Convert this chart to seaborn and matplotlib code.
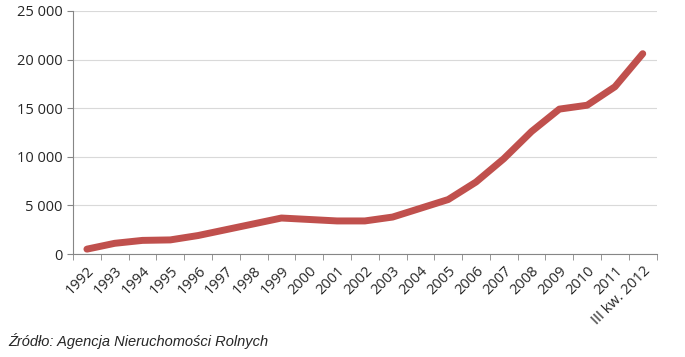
import matplotlib
matplotlib.use("Agg")
import matplotlib.pyplot as plt
import seaborn as sns
import pandas as pd
import numpy as np
from matplotlib.ticker import FuncFormatter, FixedLocator

years = ["1992", "1993", "1994", "1995", "1996", "1997", "1998", "1999", "2000",
         "2001", "2002", "2003", "2004", "2005", "2006", "2007", "2008", "2009",
         "2010", "2011", "III kw. 2012"]
values = [500, 1100, 1400, 1450, 1900, 2500, 3100, 3700, 3550, 3400, 3400,
          3800, 4700, 5600, 7400, 9800, 12600, 14900, 15300, 17200, 20600]

df = pd.DataFrame({"pos": np.arange(len(years)), "value": values})

sns.set_style("white")
plt.rcParams["font.family"] = ["Open Sans", "DejaVu Sans"]

fig = plt.figure(figsize=(6.85, 3.57), dpi=100)
ax = fig.add_axes([0.1066, 0.2885, 0.852, 0.681])

sns.lineplot(data=df, x="pos", y="value", ax=ax, color="#C0504D", linewidth=5,
             solid_capstyle="round", solid_joinstyle="round")

ax.set_xlim(-0.5, len(years) - 0.5)
ax.set_ylim(0, 25000)
ax.set_yticks(range(0, 25001, 5000))
ax.yaxis.set_major_formatter(FuncFormatter(lambda v, p: f"{int(v):,}".replace(",", " ")))
ax.yaxis.grid(True, color="#D9D9D9", linewidth=0.8)
ax.set_axisbelow(True)

ax.set_xticks(df["pos"])
ax.set_xticklabels(years, rotation=45, ha="right", rotation_mode="anchor")
ax.xaxis.set_minor_locator(FixedLocator(np.arange(-0.5, len(years), 1.0)))
ax.tick_params(axis="x", which="major", length=0, labelsize=10.5, pad=7)
ax.tick_params(axis="x", which="minor", length=4, color="#868686", direction="out", bottom=True)
ax.tick_params(axis="y", length=4, color="#868686", labelsize=10.5, left=True, direction="out")

for side in ["top", "right"]:
    ax.spines[side].set_visible(False)
for side in ["left", "bottom"]:
    ax.spines[side].set_color("#868686")
    ax.spines[side].set_linewidth(0.8)

ax.set_xlabel("")
ax.set_ylabel("")

fig.text(0.012, 0.03, "Źródło: Agencja Nieruchomości Rolnych", fontsize=10.5,
         style="italic", family=["Liberation Sans", "DejaVu Sans"])

fig.savefig("out.png", dpi=100, facecolor="white")
